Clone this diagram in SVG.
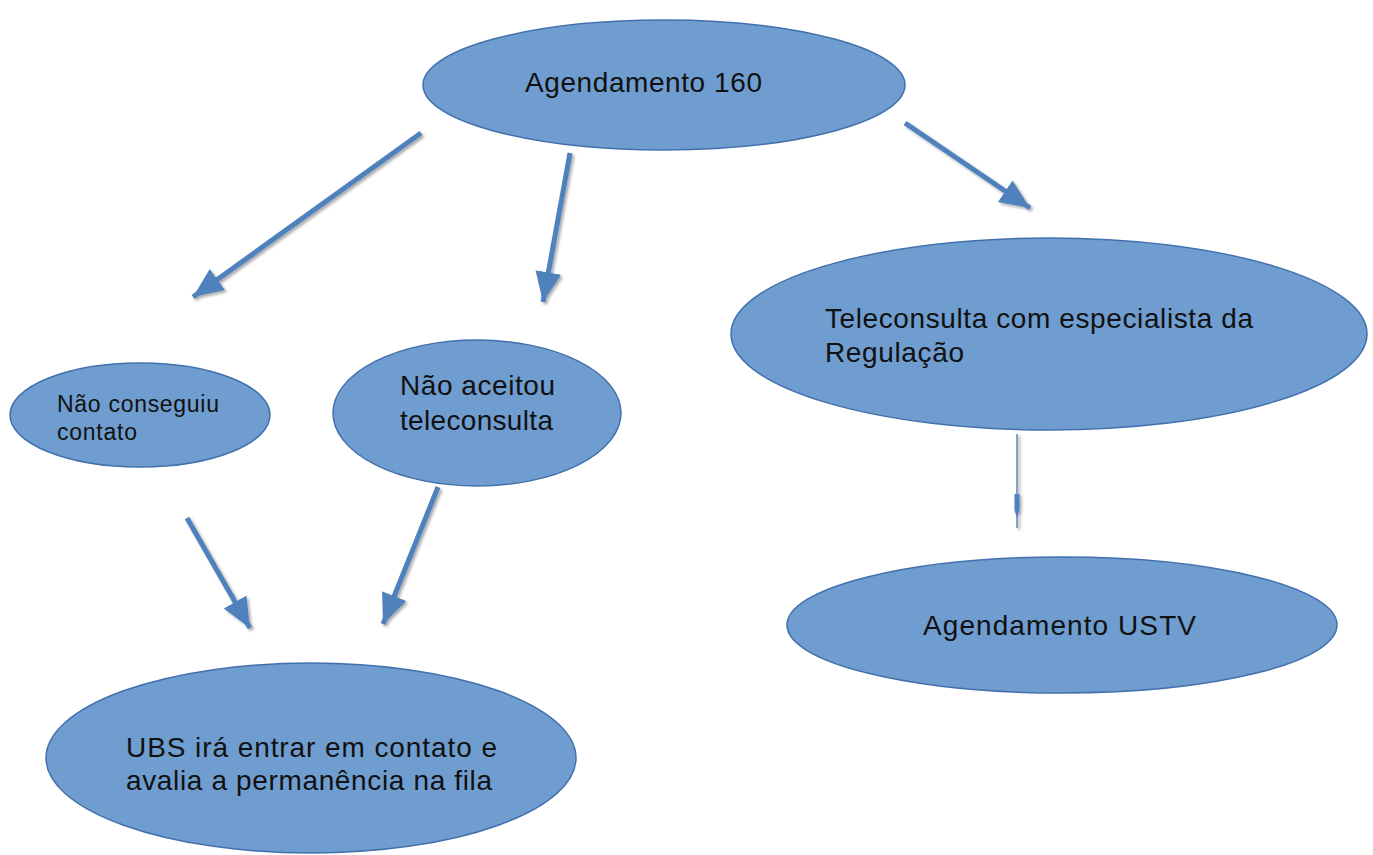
<svg xmlns="http://www.w3.org/2000/svg" width="1373" height="855" viewBox="0 0 1373 855">
<defs>
<style>
.node ellipse{fill:#6f9dcf;stroke:#4270ad;stroke-width:1.5}
.node text{font-family:"Liberation Sans",Arial,sans-serif;fill:#111;font-size:28px}
.conn line{stroke:#4f81bd;stroke-width:5;fill:none}
</style>
<marker id="ah" markerUnits="userSpaceOnUse" markerWidth="32" markerHeight="32" viewBox="0 0 32 32" refX="30" refY="16" orient="auto">
<path d="M0,3 L30,16 L0,29 Z" fill="#4f81bd"/>
</marker>
<filter id="sh" x="-10%" y="-10%" width="130%" height="130%">
<feGaussianBlur in="SourceAlpha" stdDeviation="1.5"/>
<feOffset dx="1.5" dy="2" result="b"/>
<feComponentTransfer><feFuncA type="linear" slope="0.35"/></feComponentTransfer>
<feMerge><feMergeNode/><feMergeNode in="SourceGraphic"/></feMerge>
</filter>
</defs>
<rect width="1373" height="855" fill="#fff"/>
<g id="n1" class="node"><ellipse cx="664" cy="85" rx="241" ry="65"/><text x="525" y="92" textLength="237" lengthAdjust="spacing">Agendamento 160</text></g>
<g id="n2" class="node"><ellipse cx="1049" cy="334" rx="318" ry="96"/><text x="825" y="328" textLength="428" lengthAdjust="spacing">Teleconsulta com especialista da</text><text x="825" y="362" textLength="139" lengthAdjust="spacing">Regulação</text></g>
<g id="n3" class="node"><ellipse cx="140" cy="415" rx="130" ry="52"/><text x="57" y="412" style="font-size:23px" textLength="162" lengthAdjust="spacing">Não conseguiu</text><text x="57" y="440" style="font-size:23px" textLength="80" lengthAdjust="spacing">contato</text></g>
<g id="n4" class="node"><ellipse cx="477" cy="413" rx="144" ry="73"/><text x="400" y="395" textLength="155" lengthAdjust="spacing">Não aceitou</text><text x="400" y="430" textLength="153" lengthAdjust="spacing">teleconsulta</text></g>
<g id="n5" class="node"><ellipse cx="1062" cy="625" rx="275" ry="68"/><text x="923" y="635" textLength="273" lengthAdjust="spacing">Agendamento USTV</text></g>
<g id="n6" class="node"><ellipse cx="311" cy="758" rx="265" ry="95"/><text x="126" y="757" textLength="371" lengthAdjust="spacing">UBS irá entrar em contato e</text><text x="126" y="790" textLength="366" lengthAdjust="spacing">avalia a permanência na fila</text></g>
<g id="connectors" class="conn" filter="url(#sh)">
<line x1="421" y1="133" x2="193" y2="297" marker-end="url(#ah)"/>
<line x1="570" y1="153" x2="543" y2="302" marker-end="url(#ah)"/>
<line x1="905" y1="123" x2="1030" y2="208" marker-end="url(#ah)"/>
<line x1="187" y1="518" x2="250" y2="628" marker-end="url(#ah)"/>
<line x1="438" y1="487" x2="383" y2="624" marker-end="url(#ah)"/>
<line x1="1017" y1="434" x2="1017" y2="528" style="stroke:#7fa2d2;stroke-width:2"/>
<path d="M1014.5,494 L1019.5,494 L1019.5,510 L1017,518 L1014.5,510 Z" fill="#4f81bd"/>
</g>
</svg>
